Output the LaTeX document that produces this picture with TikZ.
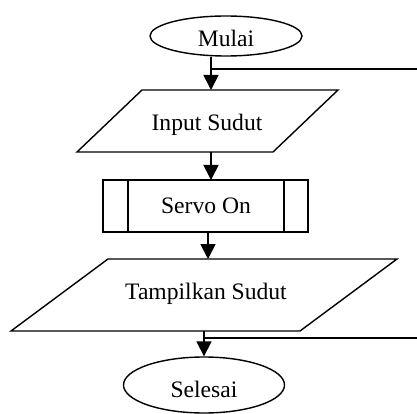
\documentclass[tikz,border=0pt]{standalone}
\usepackage{fontspec}
\setmainfont{Liberation Serif}
\usetikzlibrary{shapes.geometric,arrows.meta}
\begin{document}
\begin{tikzpicture}[x=1pt,y=-1pt,line width=1.4pt,
  txt/.style={font=\fontsize{23.6}{28}\selectfont, inner sep=0pt},
  term/.style={draw, ellipse, inner sep=0pt, txt},
  proc/.style={draw, rectangle, inner sep=0pt, txt},
  io/.style={draw},
  arr/.style={line width=1.8pt, -{Triangle[width=15pt,length=15pt]}},
  loopline/.style={line width=1.4pt}]
\useasboundingbox (0,0) rectangle (417,414);
% Start
\node[term, minimum width=152pt, minimum height=40pt] (mulai) at (226,36) {};
\node[txt] (tmulai) at (226,38) {Mulai};
% Input Sudut
\draw[io] (142,90) -- (338,90) -- (273,152) -- (77,152) -- cycle;
\node[txt] (tinput) at (207,125) {Input Sudut};
\coordinate (intop) at (211,90);
\coordinate (inbot) at (211,152);
% Servo On
\node[proc, minimum width=205pt, minimum height=52pt] (servo) at (205.5,206) {};
\draw (128,180) -- (128,232);
\draw (284,180) -- (284,232);
\node[txt] (tservo) at (206,206) {Servo On};
\coordinate (svtop) at (211,180);
% Tampilkan Sudut
\draw[io] (108,259) -- (397,259) -- (300,331) -- (11,331) -- cycle;
\node[txt] (ttamp) at (206,294) {Tampilkan Sudut};
\coordinate (tptop) at (208,259);
\coordinate (tpbot) at (204,331);
% End
\node[term, minimum width=161pt, minimum height=56pt] (selesai) at (204,385) {};
\node[txt] (tselesai) at (204,389) {Selesai};
% loop lines
\coordinate (r1) at (417,69);
\coordinate (j1) at (211,69);
\coordinate (r2) at (417,338);
\coordinate (j2) at (204,338);
\draw[loopline] (r1) -- (j1);
\draw[loopline] (r2) -- (j2);
% arrows
\draw[arr] (mulai.south -| intop) -- (intop);
\draw[arr] (inbot) -- (svtop);
\draw[arr] (servo.south -| tptop) -- (tptop);
\draw[arr] (tpbot) -- (selesai.north);
\end{tikzpicture}
\end{document}
